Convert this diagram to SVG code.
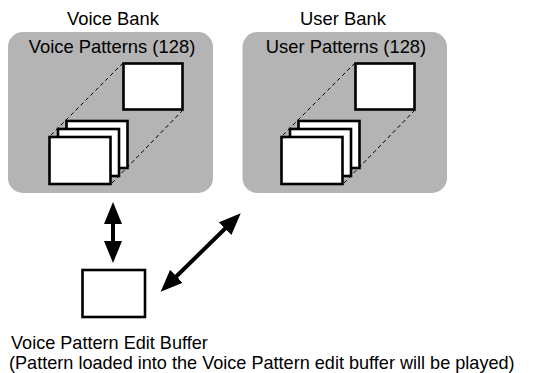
<svg xmlns="http://www.w3.org/2000/svg" width="534" height="373" viewBox="0 0 534 373">
<style>
  text { font-family: "Liberation Sans", Arial, sans-serif; font-size: 18.4px; fill: #000; }
  .note { font-size: 18.1px; }
  .bank { fill: #b4b4b4; stroke: none; }
  .card { fill: #fff; stroke: #000; stroke-width: 2.6; }
  .dash { fill: none; stroke: #000; stroke-width: 1; stroke-dasharray: 4 3; }
  .conn { fill: none; stroke: #000; stroke-width: 4; }
</style>
<defs>
  <marker id="head" viewBox="0 0 22 18" markerUnits="userSpaceOnUse" markerWidth="22" markerHeight="18" refX="12" refY="9" orient="auto-start-reverse">
    <path d="M0,0 L22,9 L0,18 z" fill="#000"/>
  </marker>
</defs>
<rect width="534" height="373" fill="#fff"/>

<g id="voice-bank">
  <text x="113" y="25" text-anchor="middle">Voice Bank</text>
  <rect class="bank" x="8" y="32" width="205" height="161" rx="15" ry="15"/>
  <text x="112" y="53" text-anchor="middle">Voice Patterns (128)</text>
  <line class="dash" x1="123" y1="63" x2="49" y2="137"/>
  <line class="dash" x1="183" y1="110" x2="111" y2="184"/>
  <rect class="card" x="123.5" y="63.5" width="59" height="46"/>
  <rect class="card" x="66.5" y="121" width="61" height="47"/>
  <rect class="card" x="58" y="129" width="61" height="47"/>
  <rect class="card" x="49.5" y="137" width="61" height="47"/>
</g>

<g id="user-bank">
  <text x="343" y="25" text-anchor="middle">User Bank</text>
  <rect class="bank" x="242.5" y="32" width="204.5" height="161" rx="15" ry="15"/>
  <text x="346" y="53" text-anchor="middle">User Patterns (128)</text>
  <line class="dash" x1="355" y1="63" x2="281" y2="137"/>
  <line class="dash" x1="415" y1="110" x2="343" y2="184"/>
  <rect class="card" x="355.5" y="63.5" width="59" height="46"/>
  <rect class="card" x="298.5" y="121" width="61" height="47"/>
  <rect class="card" x="290" y="129" width="61" height="47"/>
  <rect class="card" x="281.5" y="137" width="61" height="47"/>
</g>

<g id="edit-buffer">
  <rect class="card" x="82.5" y="270" width="62.5" height="47"/>
  <text class="note" x="11" y="349">Voice Pattern Edit Buffer</text>
  <text class="note" x="9" y="369">(Pattern loaded into the Voice Pattern edit buffer will be played)</text>
</g>

<g id="connectors">
  <line class="conn" x1="113" y1="212" x2="113" y2="253" marker-start="url(#head)" marker-end="url(#head)"/>
  <line class="conn" x1="167.8" y1="284.7" x2="233.6" y2="220.3" marker-start="url(#head)" marker-end="url(#head)"/>
</g>
</svg>
